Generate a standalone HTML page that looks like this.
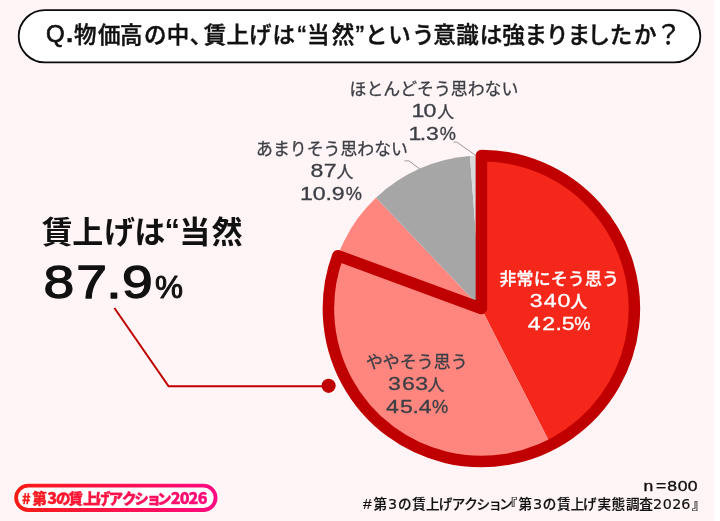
<!DOCTYPE html>
<html lang="ja"><head><meta charset="utf-8"><title>賃上げ調査</title>
<style>
html,body{margin:0;padding:0;background:#fff;}
body{width:720px;height:521px;overflow:hidden;}
svg{display:block;font-family:"Liberation Sans","Noto Sans CJK JP",sans-serif;}
</style></head><body>
<svg width="720" height="521" viewBox="0 0 720 521">
<defs>
<linearGradient id="g" gradientUnits="userSpaceOnUse" x1="14" y1="0" x2="217" y2="0">
<stop offset="0" stop-color="#f81c14"/><stop offset="1" stop-color="#ff0a82"/>
</linearGradient>
</defs>
<rect x="0" y="0" width="714.4" height="521" fill="#fff5f6"/>
<rect x="18.7" y="10.1" width="681.6" height="52.3" rx="26.15" fill="#fff" stroke="#0a0a0a" stroke-width="1.8"/>
<path d="M453.4,142.1 L456.8,142.1 L476,155.6" stroke="#999" stroke-width="1" fill="none"/>
<path d="M404.4,160.9 L408.9,160.9 L420.2,169.3" stroke="#999" stroke-width="1" fill="none"/>
<path d="M481.4,308.5 L481.40,155.50 A153.0,153.0 0 0 1 550.86,444.82 Z" fill="#f5261a"/>
<path d="M481.4,308.5 L550.86,444.82 A153.0,153.0 0 0 1 375.97,197.63 Z" fill="#ff867e"/>
<path d="M481.4,308.5 L375.97,197.63 A153.0,153.0 0 0 1 469.93,155.93 Z" fill="#a6a6a6"/>
<path d="M481.4,308.5 L469.93,155.93 A153.0,153.0 0 0 1 481.40,155.50 Z" fill="#d9d9d9"/>
<path d="M481.4,308.5 L481.40,155.50 A153.0,153.0 0 1 1 337.81,255.67 Z" fill="none" stroke="#c00000" stroke-width="11.5" stroke-linejoin="round"/>
<path d="M114.4,308 L168.6,386.3 L328,386.3" stroke="#c00000" stroke-width="2" fill="none"/>
<circle cx="328.6" cy="385.8" r="7.1" fill="#c00000"/>
<rect x="13.4" y="483.0" width="204.9" height="29.7" rx="14.85" fill="#fff"/>
<rect x="16.1" y="485.7" width="199.5" height="24.3" rx="12.15" fill="#fff" stroke="url(#g)" stroke-width="3.8"/>
<text x="46.05 66.25" y="41.6" font-size="24.0" font-weight="400" fill="#111" style="font-family:'Liberation Sans','Noto Sans CJK JP',sans-serif" stroke="#111" stroke-width="0.7">Q<tspan font-weight="700">.</tspan></text><text x="74.00 97.90 119.90 144.00 166.85 189.70 203.75 226.55 249.10 272.40 297.40 307.10 331.80 355.45 364.95 388.20 412.10 433.15 456.25 479.65 502.35 524.60 546.00 567.65 587.55 609.85 633.90 655.30" y="43.30 43.30 43.30 43.30 43.30 43.30 43.30 43.30 43.30 43.30 43.50 43.30 43.30 43.50 43.30 43.30 43.30 43.30 43.30 43.30 43.30 43.30 43.30 43.30 43.30 43.30 43.30 44.30" font-size="22.5" font-weight="500" fill="#111" style="font-family:'Liberation Sans','Noto Sans CJK JP',sans-serif" stroke="#111" stroke-width="0.45">物価高の中、賃上げは<tspan font-size="26">“</tspan>当然<tspan font-size="26">”</tspan>という意識は強まりましたか<tspan font-weight="400" font-size="26.5">？</tspan></text>
<text x="41.75 72.20 104.05 134.30 164.45 179.35 211.55" y="242.60 242.60 242.60 242.60 241.00 242.60 242.60" font-size="31" font-weight="700" fill="#111" style="font-family:'Liberation Sans','Noto Sans CJK JP',sans-serif">賃上げは“当然</text>
<text transform="scale(1.18,1)" x="36.92 64.67 90.03 103.31" y="297.8" font-size="46.8" font-weight="400" fill="#111" style="font-family:'Liberation Sans','Noto Sans CJK JP',sans-serif" stroke="#111" stroke-width="1.3" stroke-linejoin="round">87.9</text><text x="154.90" y="297.8" font-size="31.5" font-weight="400" fill="#111" style="font-family:'Liberation Sans','Noto Sans CJK JP',sans-serif" stroke="#111" stroke-width="1.0" stroke-linejoin="round">%</text>
<text x="349.50 366.39 383.28 400.17 417.06 433.94 450.83 467.72 484.61 501.50" y="95.2" font-size="16.9" font-weight="400" fill="#3b3f45" style="font-family:'Liberation Sans','Noto Sans CJK JP',sans-serif" stroke="#3b3f45" stroke-width="0.3">ほとんどそう思わない</text>
<text transform="scale(1.27,1)" x="324.03 333.50" y="117.4" font-size="18.2" font-weight="400" fill="#3b3f45" style="font-family:'Liberation Sans','Noto Sans CJK JP',sans-serif" stroke="#3b3f45" stroke-width="0.3">10</text><text x="437.20" y="118.4" font-size="16.9" font-weight="400" fill="#3b3f45" style="font-family:'Liberation Sans','Noto Sans CJK JP',sans-serif" stroke="#3b3f45" stroke-width="0.3">人</text>
<text transform="scale(1.27,1)" x="321.74 330.45 335.39" y="139.6" font-size="18.2" font-weight="400" fill="#3b3f45" style="font-family:'Liberation Sans','Noto Sans CJK JP',sans-serif" stroke="#3b3f45" stroke-width="0.3">1.3</text><text x="439.65" y="139.6" font-size="18.2" font-weight="400" fill="#3b3f45" style="font-family:'Liberation Sans','Noto Sans CJK JP',sans-serif" stroke="#3b3f45" stroke-width="0.3">%</text>
<text x="256.10 272.96 289.83 306.69 323.55 340.41 357.28 374.14 391.00" y="155.4" font-size="16.9" font-weight="400" fill="#3b3f45" style="font-family:'Liberation Sans','Noto Sans CJK JP',sans-serif" stroke="#3b3f45" stroke-width="0.3">あまりそう思わない</text>
<text transform="scale(1.27,1)" x="244.57 254.84" y="177.4" font-size="18.2" font-weight="400" fill="#3b3f45" style="font-family:'Liberation Sans','Noto Sans CJK JP',sans-serif" stroke="#3b3f45" stroke-width="0.3">87</text><text x="336.50" y="178.4" font-size="16.9" font-weight="400" fill="#3b3f45" style="font-family:'Liberation Sans','Noto Sans CJK JP',sans-serif" stroke="#3b3f45" stroke-width="0.3">人</text>
<text transform="scale(1.27,1)" x="236.31 246.30 256.24 261.18" y="200.1" font-size="18.2" font-weight="400" fill="#3b3f45" style="font-family:'Liberation Sans','Noto Sans CJK JP',sans-serif" stroke="#3b3f45" stroke-width="0.3">10.9</text><text x="345.65" y="200.1" font-size="18.2" font-weight="400" fill="#3b3f45" style="font-family:'Liberation Sans','Noto Sans CJK JP',sans-serif" stroke="#3b3f45" stroke-width="0.3">%</text>
<text x="499.50 516.58 533.67 550.75 567.83 584.92 602.00" y="285.2" font-size="16.9" font-weight="500" fill="#fff" style="font-family:'Liberation Sans','Noto Sans CJK JP',sans-serif" stroke="#fff" stroke-width="0.3">非常にそう思う</text>
<text transform="scale(1.27,1)" x="417.17 428.07 438.98" y="306.9" font-size="18.2" font-weight="400" fill="#fff" style="font-family:'Liberation Sans','Noto Sans CJK JP',sans-serif" stroke="#fff" stroke-width="0.3">340</text><text x="570.15" y="307.9" font-size="16.9" font-weight="500" fill="#fff" style="font-family:'Liberation Sans','Noto Sans CJK JP',sans-serif" stroke="#fff" stroke-width="0.3">人</text>
<text transform="scale(1.27,1)" x="415.63 426.97 437.34 442.28" y="330.0" font-size="18.2" font-weight="400" fill="#fff" style="font-family:'Liberation Sans','Noto Sans CJK JP',sans-serif" stroke="#fff" stroke-width="0.3">42.5</text><text x="574.20" y="330.0" font-size="18.2" font-weight="400" fill="#fff" style="font-family:'Liberation Sans','Noto Sans CJK JP',sans-serif" stroke="#fff" stroke-width="0.3">%</text>
<text x="365.90 382.86 399.82 416.78 433.74 450.70" y="368.2" font-size="16.9" font-weight="400" fill="#3b3f45" style="font-family:'Liberation Sans','Noto Sans CJK JP',sans-serif" stroke="#3b3f45" stroke-width="0.3">ややそう思う</text>
<text transform="scale(1.27,1)" x="305.51 316.46 326.93" y="390.4" font-size="18.2" font-weight="400" fill="#3b3f45" style="font-family:'Liberation Sans','Noto Sans CJK JP',sans-serif" stroke="#3b3f45" stroke-width="0.3">363</text><text x="427.50" y="391.4" font-size="16.9" font-weight="400" fill="#3b3f45" style="font-family:'Liberation Sans','Noto Sans CJK JP',sans-serif" stroke="#3b3f45" stroke-width="0.3">人</text>
<text transform="scale(1.27,1)" x="303.98 314.92 324.82 329.80" y="413.0" font-size="18.2" font-weight="400" fill="#3b3f45" style="font-family:'Liberation Sans','Noto Sans CJK JP',sans-serif" stroke="#3b3f45" stroke-width="0.3">45.4</text><text x="431.90" y="413.0" font-size="18.2" font-weight="400" fill="#3b3f45" style="font-family:'Liberation Sans','Noto Sans CJK JP',sans-serif" stroke="#3b3f45" stroke-width="0.3">%</text>
<text transform="scale(1.22,1)" x="527.39 537.68 547.02 555.63 563.83" y="491.2" font-size="14.4" font-weight="400" fill="#111" style="font-family:'Liberation Sans','Noto Sans CJK JP',sans-serif" stroke="#111" stroke-width="0.35">n=800</text>
<text x="363.00 373.50 388.00 398.00 412.25 426.00 438.75 451.75 464.25 476.43 488.50 499.25 503.70 518.50 533.00 542.67 556.95 570.67 583.00 597.55 611.45 626.00 639.25 652.90 662.80 672.25 681.15 691.75" y="509.2" font-size="13.6" font-weight="500" fill="#111" style="font-family:'Liberation Sans','Noto Sans CJK JP',sans-serif" stroke="#111" stroke-width="0.2"><tspan font-weight="400" font-size="15.5">#</tspan>第<tspan font-weight="400" font-size="14.3" style="font-family:'DejaVu Sans','Liberation Sans',sans-serif">3</tspan>の賃上げアクション『第<tspan font-weight="400" font-size="14.3" style="font-family:'DejaVu Sans','Liberation Sans',sans-serif">3</tspan>の賃上げ実態調査<tspan font-weight="400" font-size="14.3" style="font-family:'DejaVu Sans','Liberation Sans',sans-serif">2026</tspan>』</text>
<text x="21.95 32.33 47.30 55.95 68.60 82.88 95.85 108.45 122.05 134.20 146.50 157.10 170.70 179.80 188.60 197.80" y="504.2" font-size="14.6" font-weight="900" fill="url(#g)" style="font-family:'Noto Sans CJK JP','Liberation Sans',sans-serif" stroke="url(#g)" stroke-width="0.35"><tspan font-weight="700">#</tspan>第<tspan font-size="16.2">3</tspan>の賃上げアクション<tspan font-size="16.2">2026</tspan></text>
</svg>
</body></html>
